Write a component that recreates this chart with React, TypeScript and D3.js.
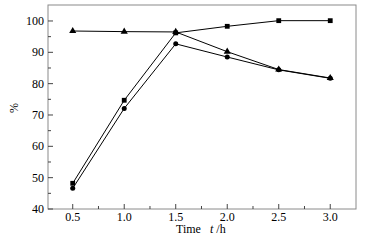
import React from "react";
import * as d3 from "d3";

const times = [0.5, 1.0, 1.5, 2.0, 2.5, 3.0];
const squareSeries = [48.2, 74.7, 96.2, 98.3, 100.1, 100.1];
const circleSeries = [46.6, 72.1, 92.7, 88.5, 84.4, 81.7];
const triangleSeries = [96.8, 96.6, 96.5, 90.2, 84.5, 81.8];
const xTicks = [0.5, 1.0, 1.5, 2.0, 2.5, 3.0];
const yTicks = [40, 50, 60, 70, 80, 90, 100];

const W = 372, H = 246;
const L = 48, R = 356, T = 5, B = 209;

export default function App() {
  const x = d3.scaleLinear().domain([0.26, 3.25]).range([L, R]);
  const y = d3.scaleLinear().domain([40, 105.1]).range([B, T]);
  const line = d3.line<number>().x((_, i) => x(times[i])).y((d) => y(d));
  const xMinor = d3.range(0.75, 3.25, 0.5);
  const yMinor = d3.range(45, 105, 10);
  const font = "'Liberation Serif', 'Times New Roman', serif";
  const tri = d3.symbol(d3.symbolTriangle, 22)();
  return (
    <svg width={W} height={H} style={{ position: "absolute", left: 0, top: 0 }} fontFamily={font}>
      <rect x={L} y={T} width={R - L} height={B - T} fill="white" stroke="#8a8a8a" strokeWidth={1} />
      {xTicks.map((t) => (
        <g key={"x" + t}>
          <line x1={x(t)} x2={x(t)} y1={B} y2={B - 5} stroke="#444" />
          <text x={x(t)} y={B + 12} textAnchor="middle" fontSize={12}>{t.toFixed(1)}</text>
        </g>
      ))}
      {xMinor.map((t) => (
        <line key={"xm" + t} x1={x(t)} x2={x(t)} y1={B} y2={B - 3} stroke="#444" />
      ))}
      {yTicks.map((t) => (
        <g key={"y" + t}>
          <line x1={L} x2={L + 5} y1={y(t)} y2={y(t)} stroke="#444" />
          <text x={L - 4} y={y(t) + 4} textAnchor="end" fontSize={12}>{t}</text>
        </g>
      ))}
      {yMinor.map((t) => (
        <line key={"ym" + t} x1={L} x2={L + 3} y1={y(t)} y2={y(t)} stroke="#444" />
      ))}
      <text transform={`translate(18,108) rotate(-90)`} textAnchor="middle" fontSize={12}>%</text>
      <text x={176} y={233} fontSize={12}>Time</text>
      <text x={210} y={233} fontSize={12}><tspan fontStyle="italic">t</tspan> /h</text>
      <path d={line(squareSeries) || ""} fill="none" stroke="black" strokeWidth={1} />
      <path d={line(circleSeries) || ""} fill="none" stroke="black" strokeWidth={1} />
      <path d={line(triangleSeries) || ""} fill="none" stroke="black" strokeWidth={1} />
      {squareSeries.map((v, i) => (
        <rect key={"s" + i} x={x(times[i]) - 2.4} y={y(v) - 2.4} width={4.8} height={4.8} fill="black" />
      ))}
      {circleSeries.map((v, i) => (
        <circle key={"c" + i} cx={x(times[i])} cy={y(v)} r={2.5} fill="black" />
      ))}
      {triangleSeries.map((v, i) => (
        <path key={"t" + i} d={tri || ""} transform={`translate(${x(times[i])},${y(v)})`} fill="black" />
      ))}
    </svg>
  );
}
